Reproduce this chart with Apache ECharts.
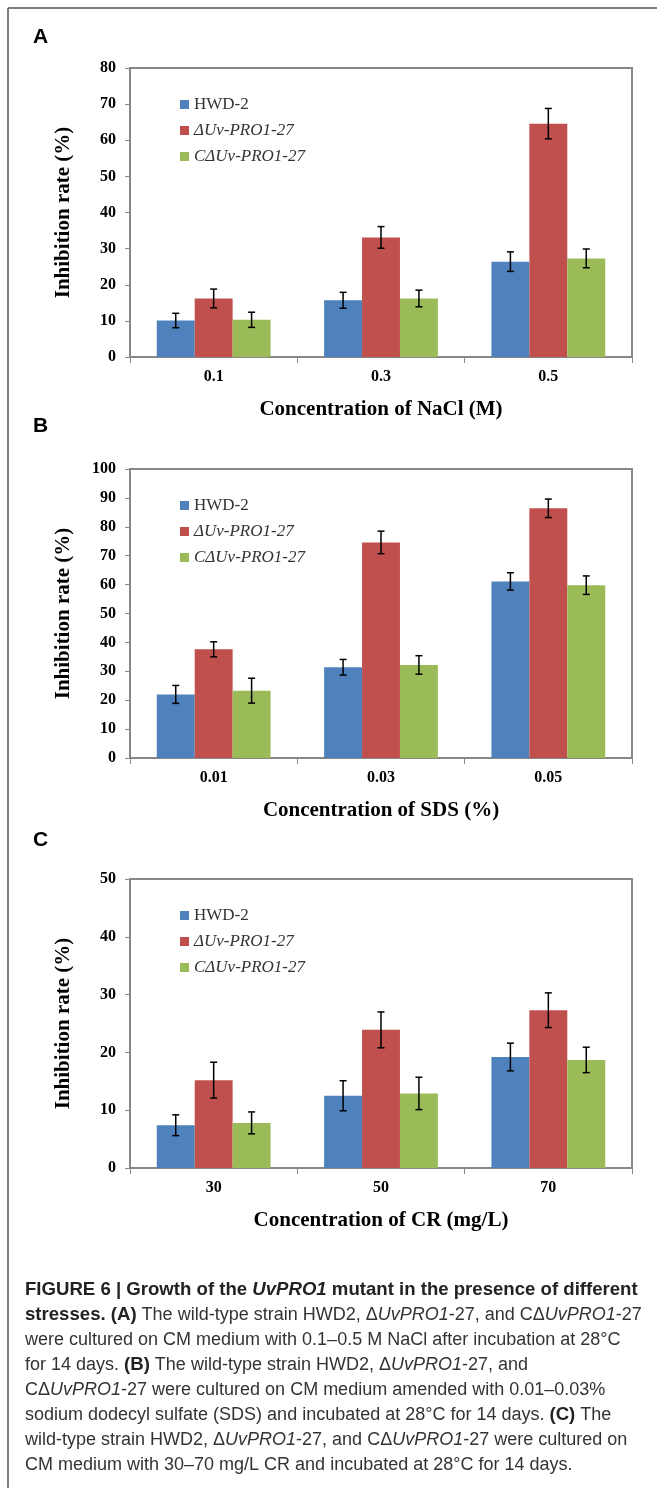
<!DOCTYPE html>
<html>
<head>
<meta charset="utf-8">
<script src="https://cdn.jsdelivr.net/npm/echarts@6/dist/echarts.min.js"></script>
<style>
  html, body { margin: 0; padding: 0; background: #fff; }
  #chart { width: 657px; height: 1488px; }
</style>
</head>
<body>
<div id="chart"></div>
<script>
// strains
const strainNames = ['HWD-2', 'ΔUv-PRO1-27', 'CΔUv-PRO1-27']
const strainColors = ['#4f81bd', '#c0504d', '#9bbb59']

// (A) NaCl
const naclLevels = ['0.1', '0.3', '0.5']
const naclHwd = [10.1, 15.7, 26.4]
const naclHwdErr = [2.0, 2.2, 2.7]
const naclMut = [16.2, 33.1, 64.6]
const naclMutErr = [2.6, 3.0, 4.2]
const naclComp = [10.3, 16.2, 27.3]
const naclCompErr = [2.1, 2.3, 2.6]
const naclTicks = { max: 80, interval: 10 }

// (B) SDS
const sdsLevels = ['0.01', '0.03', '0.05']
const sdsHwd = [22.0, 31.4, 61.1]
const sdsHwdErr = [3.1, 2.7, 3.0]
const sdsMut = [37.6, 74.6, 86.4]
const sdsMutErr = [2.6, 3.9, 3.2]
const sdsComp = [23.3, 32.2, 59.8]
const sdsCompErr = [4.3, 3.2, 3.2]
const sdsTicks = { max: 100, interval: 10 }

// (C) Congo red
const crLevels = ['30', '50', '70']
const crHwd = [7.4, 12.5, 19.2]
const crHwdErr = [1.8, 2.6, 2.4]
const crMut = [15.2, 23.9, 27.3]
const crMutErr = [3.1, 3.1, 3.0]
const crComp = [7.8, 12.9, 18.7]
const crCompErr = [1.9, 2.8, 2.2]
const crTicks = { max: 50, interval: 10 }

const panels = [
  { letter: 'A', top: 68, levels: naclLevels, ticks: naclTicks, title: 'Concentration of NaCl (M)',
    values: [naclHwd, naclMut, naclComp], errs: [naclHwdErr, naclMutErr, naclCompErr] },
  { letter: 'B', top: 469, levels: sdsLevels, ticks: sdsTicks, title: 'Concentration of SDS (%)',
    values: [sdsHwd, sdsMut, sdsComp], errs: [sdsHwdErr, sdsMutErr, sdsCompErr] },
  { letter: 'C', top: 879, levels: crLevels, ticks: crTicks, title: 'Concentration of CR (mg/L)',
    values: [crHwd, crMut, crComp], errs: [crHwdErr, crMutErr, crCompErr] },
]
const letterY = [37, 426, 840]

const serif = '"Liberation Serif", "Times New Roman", serif'
const sans = '"Liberation Sans", Arial, sans-serif'
const axisGray = '#878787'
const CAT_GAP = 0.32
const PLOT_H = 289

function errorSeries(values, errs, gridIdx, slot) {
  return {
    type: 'custom',
    name: 'err',
    xAxisIndex: gridIdx,
    yAxisIndex: gridIdx,
    z: 10,
    silent: true,
    data: values.map((v, i) => [i, v - errs[i], v + errs[i]]),
    renderItem(params, api) {
      const lo = api.coord([api.value(0), api.value(1)])
      const hi = api.coord([api.value(0), api.value(2)])
      const band = api.size([1, 0])[0]
      const bw = band * (1 - CAT_GAP) / 3
      const x = lo[0] + (slot - 1) * bw
      const cap = 3.5
      const style = { stroke: '#000', lineWidth: 1.5 }
      return {
        type: 'group',
        children: [
          { type: 'line', shape: { x1: x, y1: lo[1], x2: x, y2: hi[1] }, style },
          { type: 'line', shape: { x1: x - cap, y1: lo[1], x2: x + cap, y2: lo[1] }, style },
          { type: 'line', shape: { x1: x - cap, y1: hi[1], x2: x + cap, y2: hi[1] }, style },
        ],
      }
    },
  }
}

const grid = []
const xAxis = []
const yAxis = []
const legend = []
const series = []
const graphic = []

panels.forEach((p, gi) => {
  grid.push({
    left: 130, right: 25, top: p.top, height: PLOT_H,
    show: true, borderColor: axisGray, borderWidth: 2, backgroundColor: '#fff',
  })
  xAxis.push({
    type: 'category',
    gridIndex: gi,
    data: p.levels,
    name: p.title,
    nameLocation: 'middle',
    nameGap: 42,
    nameTextStyle: { fontFamily: serif, fontWeight: 'bold', fontSize: 21, color: '#000' },
    axisLine: { lineStyle: { color: axisGray, width: 2 } },
    axisTick: { show: true, length: 6, lineStyle: { color: axisGray, width: 1 } },
    axisLabel: { fontFamily: serif, fontWeight: 'bold', fontSize: 16, color: '#000', margin: 12 },
  })
  yAxis.push({
    type: 'value',
    gridIndex: gi,
    min: 0,
    max: p.ticks.max,
    interval: p.ticks.interval,
    name: 'Inhibition rate (%)',
    nameLocation: 'middle',
    nameRotate: 90,
    nameGap: 56,
    nameTextStyle: { fontFamily: serif, fontWeight: 'bold', fontSize: 21, color: '#000' },
    splitLine: { show: false },
    axisLine: { show: true, lineStyle: { color: axisGray, width: 2 } },
    axisTick: { show: true, length: 5, lineStyle: { color: axisGray, width: 1 } },
    axisLabel: { fontFamily: serif, fontWeight: 'bold', fontSize: 16, color: '#000', margin: 14 },
  })
  legend.push({
    orient: 'vertical',
    left: 175,
    top: p.top + 23,
    icon: 'rect',
    itemWidth: 9,
    itemHeight: 9,
    itemGap: 9,
    selectedMode: false,
    textStyle: { fontFamily: serif, fontSize: 17, color: '#333' },
    data: strainNames.map((n, i) => ({ name: n, textStyle: { fontStyle: i === 0 ? 'normal' : 'italic' } })),
  })
  strainNames.forEach((name, si) => {
    series.push({
      type: 'bar',
      name,
      xAxisIndex: gi,
      yAxisIndex: gi,
      data: p.values[si],
      barGap: '0%',
      barCategoryGap: CAT_GAP * 100 + '%',
      itemStyle: { color: strainColors[si] },
    })
  })
  strainNames.forEach((name, si) => {
    series.push(errorSeries(p.values[si], p.errs[si], gi, si))
  })
  graphic.push({
    type: 'text', left: 33, top: letterY[gi] - 10,
    style: { text: p.letter, font: 'bold 21px ' + sans, fill: '#000' },
  })
})

// figure frame (left and top rules)
graphic.push({ type: 'line', shape: { x1: 8, y1: 8, x2: 657, y2: 8 }, style: { stroke: '#555', lineWidth: 1.5 } })
graphic.push({ type: 'line', shape: { x1: 8, y1: 8, x2: 8, y2: 1488 }, style: { stroke: '#555', lineWidth: 1.5 } })

// caption
const captionLines = [
  '{b|FIGURE 6 | Growth of the }{bi|UvPRO1}{b| mutant in the presence of different}',
  '{b|stresses. (A)}{n| The wild-type strain HWD2, Δ}{i|UvPRO1}{n|-27, and CΔ}{i|UvPRO1}{n|-27}',
  '{n|were cultured on CM medium with 0.1–0.5 M NaCl after incubation at 28°C}',
  '{n|for 14 days. }{b|(B)}{n| The wild-type strain HWD2, Δ}{i|UvPRO1}{n|-27, and}',
  '{n|CΔ}{i|UvPRO1}{n|-27 were cultured on CM medium amended with 0.01–0.03%}',
  '{n|sodium dodecyl sulfate (SDS) and incubated at 28°C for 14 days. }{b|(C)}{n| The}',
  '{n|wild-type strain HWD2, Δ}{i|UvPRO1}{n|-27, and CΔ}{i|UvPRO1}{n|-27 were cultured on}',
  '{n|CM medium with 30–70 mg/L CR and incubated at 28°C for 14 days.}',
]
const capFont = 18
const captionRich = {
  n: { fontFamily: sans, fontSize: capFont, fill: '#333' },
  i: { fontFamily: sans, fontSize: capFont, fontStyle: 'italic', fill: '#333' },
  b: { fontFamily: sans, fontSize: capFont + 0.6, fontWeight: 'bold', fill: '#222' },
  bi: { fontFamily: sans, fontSize: capFont + 0.6, fontWeight: 'bold', fontStyle: 'italic', fill: '#222' },
}
captionLines.forEach((line, li) => {
  graphic.push({
    type: 'text',
    x: 25,
    y: 1290 + li * 25,
    style: { text: line, rich: captionRich, verticalAlign: 'middle', align: 'left' },
  })
})

const chart = echarts.init(document.getElementById('chart'), null, { renderer: 'canvas' })
chart.setOption({
  animation: false,
  backgroundColor: '#fff',
  grid,
  xAxis,
  yAxis,
  legend,
  series,
  graphic,
})
</script>
</body>
</html>
